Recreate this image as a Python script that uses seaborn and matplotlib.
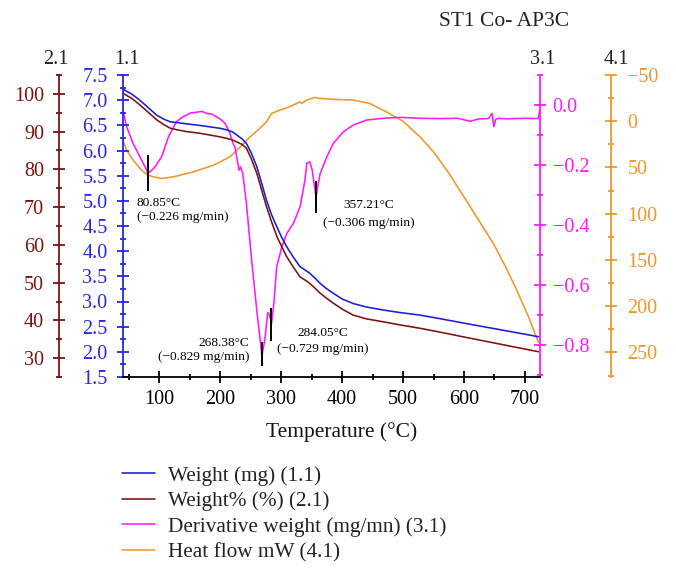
import matplotlib
matplotlib.use("Agg")
import matplotlib.pyplot as plt
import seaborn as sns
import pandas as pd
from matplotlib.ticker import MultipleLocator, FixedLocator, FuncFormatter

# ---------------- data ----------------
temp_w = [40, 55, 68, 82, 96, 108, 118, 132, 145, 165, 183, 200, 211, 220, 227, 236,
          243, 251, 260, 268, 276, 284, 293, 301, 309, 320, 331, 340, 347, 355, 364,
          375, 386, 400, 418, 440, 468, 495, 528, 560, 600, 650, 700, 722]
weight_mg = [7.22, 7.12, 7.00, 6.85, 6.70, 6.62, 6.57, 6.55, 6.53, 6.50, 6.47, 6.44,
             6.41, 6.37, 6.31, 6.23, 6.14, 5.95, 5.68, 5.35, 5.01, 4.73, 4.48, 4.27,
             4.09, 3.88, 3.69, 3.62, 3.56, 3.47, 3.36, 3.25, 3.16, 3.05, 2.96, 2.89,
             2.83, 2.78, 2.73, 2.66, 2.57, 2.46, 2.35, 2.30]
weight_pct = [100.2, 98.8, 97.1, 95.1, 93.1, 91.8, 90.9, 90.4, 90.0, 89.6, 89.1, 88.6,
              88.2, 87.8, 87.3, 86.6, 85.6, 82.8, 79.0, 74.5, 70.1, 66.2, 62.2, 59.5,
              56.9, 54.1, 51.5, 50.6, 49.8, 48.6, 47.2, 45.8, 44.5, 43.0, 41.4, 40.4,
              39.6, 38.8, 37.9, 36.9, 35.6, 34.0, 32.4, 31.7]

temp_d = [40, 46.5, 57, 71, 79, 80.85, 85, 93, 104, 115, 128, 138, 145, 152, 161, 170,
          178, 186, 194, 201, 208, 216, 221, 224, 227, 231, 233.5, 237, 243, 251.6,
          260, 265, 268.38, 273, 278, 281, 284.05, 288, 292.6, 301, 309, 320, 331,
          339, 342, 347, 351, 355.5, 357.21, 361, 364, 375, 385.5, 402, 418, 440,
          467, 495, 528, 560, 590, 610, 625, 640, 646, 649, 652, 656, 670, 700, 720,
          722, 724]
deriv = [-0.015, -0.072, -0.128, -0.183, -0.215, -0.226, -0.222, -0.206, -0.172,
         -0.106, -0.056, -0.040, -0.033, -0.026, -0.024, -0.021, -0.028, -0.030,
         -0.039, -0.048, -0.061, -0.094, -0.128, -0.139, -0.172, -0.217, -0.206,
         -0.228, -0.328, -0.517, -0.683, -0.772, -0.835, -0.783, -0.690, -0.700,
         -0.729, -0.660, -0.539, -0.472, -0.428, -0.394, -0.339, -0.250, -0.194,
         -0.189, -0.217, -0.283, -0.306, -0.260, -0.228, -0.172, -0.128, -0.089,
         -0.067, -0.050, -0.044, -0.041, -0.044, -0.045, -0.044, -0.054, -0.046,
         -0.045, -0.028, -0.072, -0.048, -0.044, -0.046, -0.044, -0.045, -0.043,
         -0.017]

temp_h = [40, 46.5, 57, 71, 79, 90, 104, 123, 156, 189, 216, 233, 249, 265, 276,
          284.5, 298, 314, 331, 333.5, 342, 355.5, 361, 385.5, 418, 445, 473, 500,
          528, 550, 575, 604, 625, 648, 668, 686, 705, 722]
heat_flow = [20.4, 31.2, 42.0, 52.9, 57.2, 60.1, 61.9, 60.1, 54.7, 47.5, 38.5, 27.7,
             16.8, 7.7, 0.6, -8.5, -12.1, -15.7, -21.1, -19.3, -22.9, -25.8, -24.8,
             -23.7, -22.9, -19.3, -10.0, 0.0, 17.0, 33.0, 56.0, 86.0, 108.0, 132.0,
             157.0, 182.0, 210.0, 239.0]

peak_temps = [80.85, 268.38, 284.05, 357.21]
peak_vals = [-0.226, -0.829, -0.729, -0.306]

series_labels = ["Weight (mg) (1.1)", "Weight% (%) (2.1)",
                 "Derivative weight (mg/mn) (3.1)", "Heat flow mW (4.1)"]
x_ticks = [100, 200, 300, 400, 500, 600, 700]

# ---------------- style ----------------
sns.set_theme(style="white")
plt.rcParams["font.family"] = ["Liberation Serif", "DejaVu Serif"]
plt.rcParams["axes.unicode_minus"] = True

BLUE = "#1c1cd8"
BLUE_T = "#2626e8"
RED = "#7a1212"
MAG = "#ff19ff"
ORG = "#f0962a"

W, H = 676, 579
fig = plt.figure(figsize=(W / 100, H / 100), dpi=100)
fig.patch.set_facecolor("white")
L, R, T, B = 122.7, 540.2, 75, 377
ax = fig.add_axes([L / W, 1 - B / H, (R - L) / W, (B - T) / H])
ax_red = ax.twinx()
ax_mag = ax.twinx()
ax_org = ax.twinx()

df_w = pd.DataFrame({"T": temp_w, "w": weight_mg, "p": weight_pct})
df_d = pd.DataFrame({"T": temp_d, "d": deriv})
df_h = pd.DataFrame({"T": temp_h, "h": heat_flow})

LW = 1.15
sns.lineplot(data=df_h, x="T", y="h", ax=ax_org, color=ORG, lw=LW, label=series_labels[3])
sns.lineplot(data=df_d, x="T", y="d", ax=ax_mag, color=MAG, lw=LW, label=series_labels[2])
sns.lineplot(data=df_w, x="T", y="w", ax=ax, color=BLUE, lw=LW, label=series_labels[0])
sns.lineplot(data=df_w, x="T", y="p", ax=ax_red, color=RED, lw=LW, label=series_labels[1])

for a in (ax, ax_red, ax_mag, ax_org):
    a.set_xlabel("")
    a.set_ylabel("")
    if a.get_legend() is not None:
        a.get_legend().remove()
    a.patch.set_visible(False)
    for s in a.spines.values():
        s.set_visible(False)
    a.grid(False)

ax.set_zorder(3)
ax_red.set_zorder(4)
ax_mag.set_zorder(2)
ax_org.set_zorder(1)

SW = 1.3
MAJ, MIN = 8.0, 5.0
TS = 14.5

# x axis
ax.set_xlim(40, 725)
ax.spines["bottom"].set_visible(True)
ax.spines["bottom"].set_color("black")
ax.spines["bottom"].set_linewidth(SW)
ax.xaxis.set_major_locator(FixedLocator(x_ticks))
ax.xaxis.set_minor_locator(FixedLocator([t - 50 for t in x_ticks]))
ax.tick_params(axis="x", which="both", direction="inout", colors="black",
               labelsize=TS, width=SW, pad=5, bottom=True)
ax.tick_params(axis="x", which="major", length=MAJ)
ax.tick_params(axis="x", which="minor", length=MIN)

# blue axis
ax.set_ylim(1.5, 7.5)
ax.spines["left"].set_visible(True)
ax.spines["left"].set_color(BLUE_T)
ax.spines["left"].set_linewidth(SW)
ax.yaxis.set_major_locator(MultipleLocator(0.5))
ax.yaxis.set_minor_locator(MultipleLocator(0.25))
ax.yaxis.set_major_formatter(FuncFormatter(lambda v, p: f"{v:.1f}"))
ax.tick_params(axis="y", which="both", direction="inout", colors=BLUE_T,
               labelsize=TS, width=SW, pad=7, left=True)
ax.tick_params(axis="y", which="major", length=MAJ)
ax.tick_params(axis="y", which="minor", length=MIN)

# red axis
ax_red.set_ylim(25, 105)
ax_red.yaxis.set_ticks_position("left")
ax_red.yaxis.set_label_position("left")
ax_red.spines["left"].set_visible(True)
ax_red.spines["left"].set_position(("outward", 45.6))
ax_red.spines["left"].set_color(RED)
ax_red.spines["left"].set_linewidth(SW)
ax_red.yaxis.set_major_locator(MultipleLocator(10))
ax_red.yaxis.set_minor_locator(MultipleLocator(5))
ax_red.yaxis.set_major_formatter(FuncFormatter(lambda v, p: f"{v:.0f}"))
ax_red.tick_params(axis="y", which="both", direction="inout", colors=RED,
                   labelsize=TS, width=SW, pad=7, left=True, right=False,
                   labelleft=True, labelright=False)
ax_red.tick_params(axis="y", which="major", length=MAJ)
ax_red.tick_params(axis="y", which="minor", length=MIN)

# magenta axis
ax_mag.set_ylim(-0.905, 0.1)
ax_mag.spines["right"].set_visible(True)
ax_mag.spines["right"].set_color(MAG)
ax_mag.spines["right"].set_linewidth(SW)
ax_mag.yaxis.set_major_locator(FixedLocator([-0.8, -0.6, -0.4, -0.2, 0.0]))
ax_mag.yaxis.set_minor_locator(FixedLocator([-0.9, -0.7, -0.5, -0.3, -0.1, 0.1]))
ax_mag.yaxis.set_major_formatter(
    FuncFormatter(lambda v, p: ("0.0" if abs(v) < 1e-9 else f"{v:.1f}".replace("-", "\u2212"))))
ax_mag.tick_params(axis="y", which="both", direction="inout", colors=MAG,
                   labelsize=TS, width=SW, pad=5, right=True)
ax_mag.tick_params(axis="y", which="major", length=MAJ)
ax_mag.tick_params(axis="y", which="minor", length=MIN)

# orange axis (inverted)
ax_org.set_ylim(276.5, -50)
ax_org.spines["right"].set_visible(True)
ax_org.spines["right"].set_position(("outward", 50.7))
ax_org.spines["right"].set_color(ORG)
ax_org.spines["right"].set_linewidth(SW)
ax_org.yaxis.set_major_locator(MultipleLocator(50))
ax_org.yaxis.set_minor_locator(MultipleLocator(25))
ax_org.yaxis.set_major_formatter(
    FuncFormatter(lambda v, p: f"{v:.0f}".replace("-", "\u2212")))
ax_org.tick_params(axis="y", which="both", direction="inout", colors=ORG,
                   labelsize=TS, width=SW, pad=8, right=True)
ax_org.tick_params(axis="y", which="major", length=MAJ)
ax_org.tick_params(axis="y", which="minor", length=MIN)

# peak markers and annotations
half = [0.06, 0.04, 0.055, 0.053]
for t, v, hh in zip(peak_temps, peak_vals, half):
    ax_mag.vlines(t, v - hh, v + hh, color="black", lw=1.4, zorder=5)

AS = 9.6
ann = [
    (63.4, -0.327, -0.372, "left"),
    (248.0, -0.793, -0.839, "right"),
    (369.0, -0.760, -0.813, "center"),
    (444.0, -0.333, -0.393, "center"),
]
for (x, y1, y2, ha), t, v in zip(ann, peak_temps, peak_vals):
    ax_mag.text(x, y1, f"{t:.2f}\u00b0C", ha=ha, va="center", fontsize=AS, color="black")
    ax_mag.text(x, y2, f"(\u2212{abs(v):.3f} mg/min)", ha=ha, va="center",
                fontsize=AS, color="black")

# figure texts
fig.text(504 / W, 1 - 22 / H, "ST1 Co- AP3C", ha="center", va="center",
         fontsize=15.5, color="#222222")
for xp, s in [(56, "2.1"), (127, "1.1"), (543, "3.1"), (616, "4.1")]:
    fig.text(xp / W, 1 - 59 / H, s, ha="center", va="center", fontsize=14.5,
             color="#222222")
fig.text(342 / W, 1 - 432 / H, "Temperature (\u00b0C)", ha="center", va="center",
         fontsize=15.5, color="#111111")

# legend
handles = []
for a in (ax, ax_red, ax_mag, ax_org):
    handles += a.get_lines()[:1]
leg = fig.legend(handles, series_labels, loc="upper left",
                 bbox_to_anchor=(122 / W, 1 - 466 / H), frameon=False,
                 fontsize=15.3, handlelength=1.55, handletextpad=0.6,
                 labelspacing=0.26, borderpad=0, borderaxespad=0)
for t in leg.get_texts():
    t.set_color("#222222")

fig.savefig("out.png", dpi=100, facecolor="white")
